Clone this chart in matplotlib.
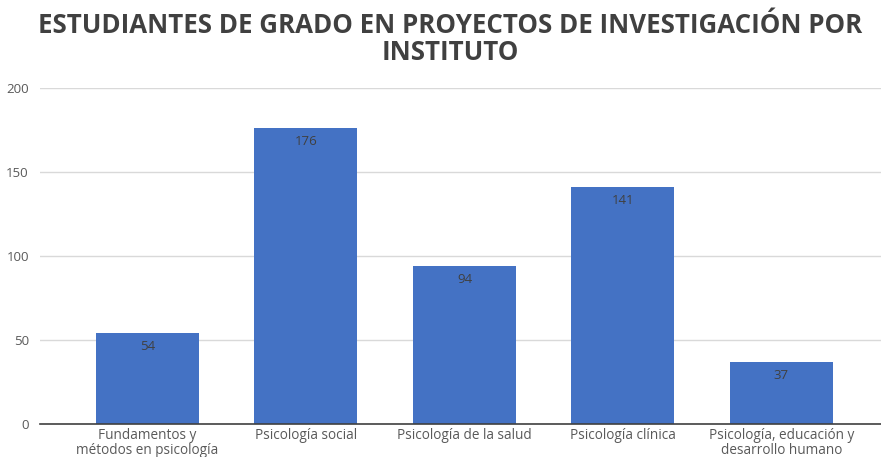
import matplotlib
matplotlib.use("Agg")
import matplotlib.pyplot as plt

categories = ["Fundamentos y\nmétodos en psicología", "Psicología social", "Psicología de la salud",
              "Psicología clínica", "Psicología, educación y\ndesarrollo humano"]
values = [54, 176, 94, 141, 37]
yticks = [0, 50, 100, 150, 200]
title = "ESTUDIANTES DE GRADO EN PROYECTOS DE INVESTIGACIÓN POR\nINSTITUTO"

plt.rcParams['font.family'] = ['Open Sans', 'DejaVu Sans']
fig = plt.figure(figsize=(8.81, 4.57), dpi=100)
ax = fig.add_axes([40/881, 33/457, 841/881, 336/457])
x = list(range(len(categories)))
bars = ax.bar(x, values, width=0.65, color="#4472C4", zorder=3)
for xi, v in zip(x, values):
    ax.annotate(str(v), (xi, v), xytext=(0, -5), textcoords="offset points",
                ha="center", va="top", fontsize=9.5, color="#404040", zorder=4)
ax.set_xlim(-0.678, 4.628)
ax.set_ylim(0, 200)
ax.set_yticks(yticks)
ax.set_xticks(x)
ax.set_xticklabels(categories, fontsize=9.8, color="#595959", linespacing=0.95)
ax.tick_params(axis="y", labelsize=9.5, labelcolor="#595959", length=0, pad=8)
ax.tick_params(axis="x", length=0, pad=3)
ax.grid(axis="y", color="#D9D9D9", linewidth=1, zorder=0)
for s in ["top", "right", "left"]:
    ax.spines[s].set_visible(False)
ax.spines["bottom"].set_color("#404040")
ax.spines["bottom"].set_linewidth(1.2)
ax.spines["bottom"].set_zorder(5)
fig.text(450/881, 1 - 39/457, title, ha="center", va="center", fontsize=18.6,
         fontweight="bold", color="#404040", linespacing=0.97)
fig.savefig("out.png", dpi=100)
